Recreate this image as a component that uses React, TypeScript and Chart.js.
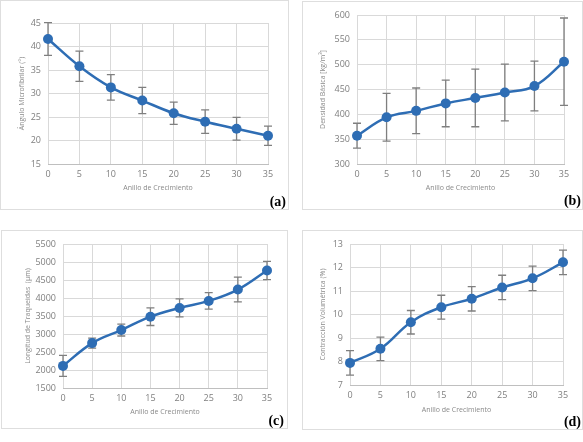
import React, { useEffect, useRef } from "react";
import { Chart, registerables } from "chart.js";

Chart.register(...registerables);

const rings = [0, 5, 10, 15, 20, 25, 30, 35];

const microfibrilAngle = [41.6, 35.8, 31.3, 28.5, 25.8, 24.0, 22.5, 21.0];
const microfibrilErr = [3.5, 3.2, 2.7, 2.8, 2.35, 2.5, 2.4, 2.05];

const basicDensity = [357, 394, 407, 422, 433, 444, 457, 506];
const basicDensityErr = [25, 48, 46, 47, 58, 57, 50, 88];

const tracheidLength = [2114, 2747, 3109, 3481, 3723, 3919, 4235, 4765];
const tracheidErr = [290, 140, 165, 245, 250, 230, 345, 255];

const volumetricShrinkage = [7.94, 8.54, 9.67, 10.31, 10.67, 11.15, 11.54, 12.22];
const volumetricErr = [0.52, 0.5, 0.5, 0.51, 0.52, 0.52, 0.52, 0.52];

const xTitle = "Anillo de Crecimiento";

const LINE = "#2E6DB4";
const GRID = "#d9d9d9";
const TICK = "#7f7f7f";
const TITLE = "#8a8a8a";
const FONT = "'Open Sans', 'Liberation Sans', sans-serif";

const errorBarsPlugin = {
  id: "errorBars",
  beforeDatasetsDraw(chart: any, _args: any, opts: any) {
    const errs: number[] = opts.errors || [];
    const ds = chart.data.datasets[0];
    const xs = chart.scales.x;
    const ys = chart.scales.y;
    const ctx = chart.ctx;
    ctx.save();
    ctx.strokeStyle = "#7f7f7f";
    ctx.lineWidth = 1.3;
    ds.data.forEach((p: any, i: number) => {
      const e = errs[i] || 0;
      const px = xs.getPixelForValue(p.x);
      const top = ys.getPixelForValue(p.y + e);
      const bot = ys.getPixelForValue(p.y - e);
      ctx.beginPath();
      ctx.moveTo(px, top);
      ctx.lineTo(px, bot);
      ctx.moveTo(px - 4, top);
      ctx.lineTo(px + 4, top);
      ctx.moveTo(px - 4, bot);
      ctx.lineTo(px + 4, bot);
      ctx.stroke();
    });
    ctx.restore();
  },
};

type PanelProps = {
  left: number;
  top: number;
  width: number;
  height: number;
  plotLeft: number;
  plotTop: number;
  plotRight: number;
  xAxisH: number;
  padBottom: number;
  yTitlePad: number;
  values: number[];
  errors: number[];
  yMin: number;
  yMax: number;
  yStep: number;
  yTitle: string;
  letter: string;
  letterRight: number;
  letterTop: number;
};

function Panel(p: PanelProps) {
  const ref = useRef<HTMLCanvasElement | null>(null);
  useEffect(() => {
    if (!ref.current) return;
    const chart = new Chart(ref.current, {
      type: "line",
      data: {
        datasets: [
          {
            data: rings.map((r, i) => ({ x: r, y: p.values[i] })),
            borderColor: LINE,
            backgroundColor: LINE,
            borderWidth: 2.5,
            pointRadius: 5,
            pointHoverRadius: 5,
            pointBorderWidth: 0,
            pointBackgroundColor: LINE,
            pointBorderColor: LINE,
            tension: 0.4,
            clip: false,
          },
        ],
      },
      options: {
        animation: false,
        responsive: false,
        events: [],
        layout: {
          padding: {
            left: 0,
            top: p.plotTop,
            right: p.width - p.plotRight,
            bottom: p.padBottom,
          },
        },
        plugins: {
          legend: { display: false },
          tooltip: { enabled: false },
          errorBars: { errors: p.errors },
        } as any,
        scales: {
          x: {
            type: "linear",
            min: 0,
            max: 35,
            afterFit: (s: any) => {
              s.height = p.xAxisH;
            },
            ticks: {
              stepSize: 5,
              color: TICK,
              padding: 5,
              font: { family: FONT, size: 9 },
              maxRotation: 0,
              callback: (v: any) => String(v),
            },
            grid: { color: GRID, drawTicks: false, lineWidth: 1 },
            border: { color: "#bfbfbf", width: 1 },
            title: {
              display: true,
              text: xTitle,
              color: TITLE,
              font: { family: FONT, size: 7 },
              padding: 0,
            },
          },
          y: {
            type: "linear",
            min: p.yMin,
            max: p.yMax,
            afterFit: (s: any) => {
              s.width = p.plotLeft;
            },
            ticks: {
              stepSize: p.yStep,
              color: TICK,
              padding: 7,
              font: { family: FONT, size: 9 },
              callback: (v: any) => String(v),
            },
            grid: { color: GRID, drawTicks: false, lineWidth: 1 },
            border: { display: false },
            title: {
              display: true,
              text: p.yTitle,
              color: TITLE,
              font: { family: FONT, size: 7 },
              padding: { top: p.yTitlePad, bottom: 0 },
            },
          },
        },
      },
      plugins: [errorBarsPlugin],
    } as any);
    return () => chart.destroy();
  }, []);
  return (
    <div
      style={{
        position: "absolute",
        left: p.left,
        top: p.top,
        width: p.width,
        height: p.height,
        outline: "1px solid #dedede",
        outlineOffset: -1,
        background: "#fff",
      }}
    >
      <canvas
        ref={ref}
        width={p.width}
        height={p.height}
        style={{ position: "absolute", left: 0, top: 0, width: p.width, height: p.height }}
      />
      <span
        style={{
          position: "absolute",
          right: p.width - p.letterRight,
          top: p.letterTop,
          fontFamily: "'Liberation Serif', 'DejaVu Serif', serif",
          fontWeight: "bold",
          fontSize: 14,
          lineHeight: "14px",
          color: "#000",
        }}
      >
        {p.letter}
      </span>
    </div>
  );
}

export default function App() {
  return (
    <div
      style={{
        position: "fixed",
        left: 0,
        top: 0,
        width: 583,
        height: 442,
        background: "#fff",
        overflow: "hidden",
      }}
    >
      <Panel
        left={0}
        top={0}
        width={289}
        height={210}
        plotLeft={48}
        plotTop={23}
        plotRight={268}
        xAxisH={28}
        padBottom={18}
        yTitlePad={18}
        values={microfibrilAngle}
        errors={microfibrilErr}
        yMin={15}
        yMax={45}
        yStep={5}
        yTitle="Ángulo Microfibrilar (°)"
        letter="(a)"
        letterRight={286}
        letterTop={195}
      />
      <Panel
        left={302}
        top={1}
        width={281}
        height={209}
        plotLeft={55}
        plotTop={14}
        plotRight={262}
        xAxisH={28}
        padBottom={18}
        yTitlePad={17}
        values={basicDensity}
        errors={basicDensityErr}
        yMin={300}
        yMax={600}
        yStep={50}
        yTitle="Densidad Básica [kg/m³]"
        letter="(b)"
        letterRight={279}
        letterTop={193}
      />
      <Panel
        left={1}
        top={230}
        width={287}
        height={199}
        plotLeft={62}
        plotTop={14}
        plotRight={266}
        xAxisH={28}
        padBottom={13}
        yTitlePad={23}
        values={tracheidLength}
        errors={tracheidErr}
        yMin={1500}
        yMax={5500}
        yStep={500}
        yTitle="Longitud de Traqueidas  (µm)"
        letter="(c)"
        letterRight={283}
        letterTop={184}
      />
      <Panel
        left={302}
        top={230}
        width={281}
        height={200}
        plotLeft={48}
        plotTop={14}
        plotRight={261}
        xAxisH={29}
        padBottom={16}
        yTitlePad={17}
        values={volumetricShrinkage}
        errors={volumetricErr}
        yMin={7}
        yMax={13}
        yStep={1}
        yTitle="Contracción Volumétrica (%)"
        letter="(d)"
        letterRight={279}
        letterTop={185}
      />
    </div>
  );
}
